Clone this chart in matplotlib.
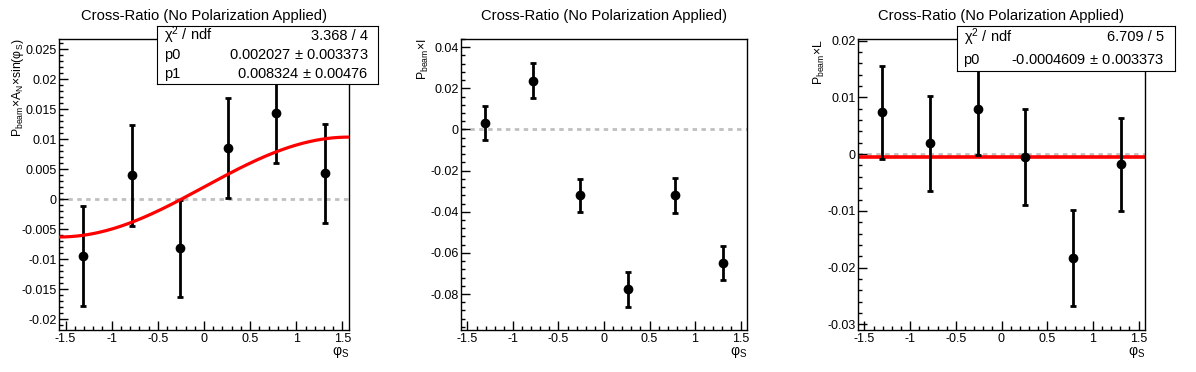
import numpy as np
import matplotlib
matplotlib.use('Agg')
import matplotlib.pyplot as plt
from matplotlib.ticker import MultipleLocator, FuncFormatter

plt.rcParams['font.family'] = ['Liberation Sans', 'DejaVu Sans']
plt.rcParams['mathtext.fontset'] = 'custom'
plt.rcParams['mathtext.rm'] = 'Liberation Sans'
plt.rcParams['mathtext.it'] = 'Liberation Sans:italic'

# bin centres in phi_S (6 bins from -pi/2 to pi/2)
phi_s = [-1.309, -0.785, -0.262, 0.262, 0.785, 1.309]

# panel 1: P_beam x A_N x sin(phi_S)
an_vals = [-0.0095, 0.0040, -0.0082, 0.0085, 0.0143, 0.0043]
an_errs = [0.0083, 0.0084, 0.0081, 0.0083, 0.0083, 0.0083]
an_fit_p0, an_fit_p1 = 0.002027, 0.008324
an_stats = [('χ$^2$ / ndf', '3.368 / 4'),
            ('p0', r'0.002027 $\pm$ 0.003373'),
            ('p1', r'0.008324 $\pm$ 0.00476')]

# panel 2: P_beam x I
i_vals = [0.0031, 0.0238, -0.0320, -0.0778, -0.0320, -0.0648]
i_errs = [0.0084, 0.0084, 0.0080, 0.0084, 0.0084, 0.0083]

# panel 3: P_beam x L
l_vals = [0.0074, 0.0019, 0.0079, -0.0005, -0.0183, -0.0018]
l_errs = [0.0082, 0.0084, 0.0081, 0.0084, 0.0084, 0.0082]
l_fit_p0 = -0.0004609
l_stats = [('χ$^2$ / ndf', '6.709 / 5'),
           ('p0', r'-0.0004609$\,\pm\,$0.003373')]

title = 'Cross-Ratio (No Polarization Applied)'
W, H = 1196, 372

fig = plt.figure(figsize=(W / 100, H / 100), dpi=100)


def px_axes(l, t, r, b):
    return fig.add_axes([l / W, 1 - b / H, (r - l) / W, (b - t) / H])


def style(ax, ylim, ymaj, ymin):
    ax.set_xlim(-np.pi / 2, np.pi / 2)
    ax.set_ylim(*ylim)
    ax.xaxis.set_major_locator(MultipleLocator(0.5))
    ax.xaxis.set_minor_locator(MultipleLocator(0.1))
    ax.yaxis.set_major_locator(MultipleLocator(ymaj))
    ax.yaxis.set_minor_locator(MultipleLocator(ymin))
    ax.tick_params(which='both', direction='in', top=False, right=False,
                   labelsize=9, width=1)
    ax.tick_params(which='major', length=6.5)
    ax.tick_params(which='minor', length=3.2)
    ax.tick_params(axis='x', pad=2)
    ax.tick_params(axis='y', pad=1.5)
    ax.xaxis.set_major_formatter(FuncFormatter(lambda v, p: '%g' % round(v, 4)))
    ax.yaxis.set_major_formatter(FuncFormatter(lambda v, p: '%g' % round(v, 5)))
    for s in ax.spines.values():
        s.set_linewidth(1)
    ax.axhline(0, color='#c0c0c0', lw=2, ls=(0, (1.6, 1.6)), zorder=1)
    ax.set_title(title, fontsize=10.6, pad=14)
    ax.text(1.0, -0.077, 'φ$_{\\rm S}$', transform=ax.transAxes,
            ha='right', va='center', fontsize=10)


def points(ax, y, e, z=3):
    ax.errorbar(phi_s, y, yerr=e, fmt='o', color='black', ms=6,
                elinewidth=2, capsize=2, capthick=2, zorder=z)


def stats_box(l, t, r, b, rows, right_x):
    bx = px_axes(l, t, r, b)
    bx.set_xticks([])
    bx.set_yticks([])
    bx.set_zorder(10)
    n = len(rows)
    for k, (a, v) in enumerate(rows):
        yy = 1 - (k + 0.5) / n
        bx.text(0.03, yy, a, transform=bx.transAxes, ha='left', va='center',
                fontsize=10.5)
        bx.text(right_x, yy, v, transform=bx.transAxes, ha='right', va='center',
                fontsize=10.5)
    return bx


# panel 1
ax1 = px_axes(59, 39, 349, 330)
style(ax1, (-0.0218, 0.0267), 0.005, 0.001)
points(ax1, an_vals, an_errs, z=3)
xf = np.linspace(-np.pi / 2, np.pi / 2, 200)
ax1.plot(xf, an_fit_p0 + an_fit_p1 * np.sin(xf), color='red', lw=2.3, zorder=4)
ax1.text(-0.14, 1.0, 'P$_{\\rm beam}$×A$_{\\rm N}$×sin(φ$_{\\rm S}$)',
         transform=ax1.transAxes, rotation=90, ha='center', va='top', fontsize=8.8)
stats_box(157, 26, 378, 84, an_stats, 0.955)

# panel 2
ax2 = px_axes(461, 39, 747, 330)
style(ax2, (-0.0975, 0.044), 0.02, 0.004)
points(ax2, i_vals, i_errs)
ax2.text(-0.133, 1.0, 'P$_{\\rm beam}$×I',
         transform=ax2.transAxes, rotation=90, ha='center', va='top', fontsize=8.8)

# panel 3
ax3 = px_axes(858, 39, 1145, 330)
style(ax3, (-0.031, 0.0203), 0.01, 0.002)
ax3.plot([-np.pi / 2, np.pi / 2], [l_fit_p0, l_fit_p0], color='red', lw=2.6, zorder=2)
points(ax3, l_vals, l_errs, z=3)
ax3.text(-0.136, 1.0, 'P$_{\\rm beam}$×L',
         transform=ax3.transAxes, rotation=90, ha='center', va='top', fontsize=8.8)
stats_box(957, 26, 1175, 71, l_stats, 0.95)

fig.savefig('out.png', dpi=100)
